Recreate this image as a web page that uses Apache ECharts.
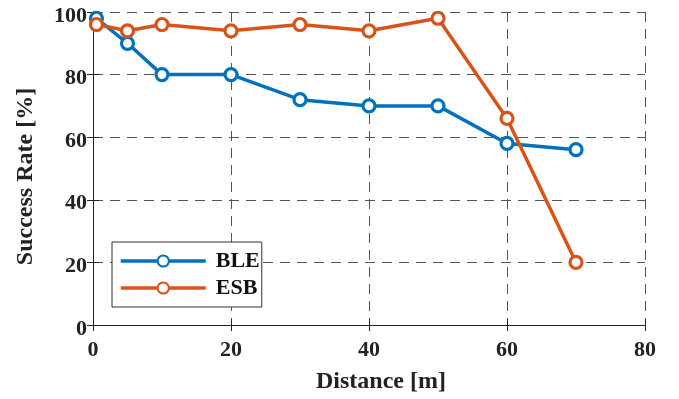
<!DOCTYPE html>
<html><head><meta charset="utf-8">
<script src="https://cdn.jsdelivr.net/npm/echarts@6/dist/echarts.min.js"></script>
<style>html,body{margin:0;padding:0;background:#fff}#c{width:679px;height:399px}</style>
</head><body><div id="c"></div>
<script>
const distances = [0.5, 5, 10, 20, 30, 40, 50, 60, 70];
const bleRate = [98, 90, 80, 80, 72, 70, 70, 58, 56];
const esbRate = [96, 94, 96, 94, 96, 94, 98, 66, 20];
const xTicks = [0, 20, 40, 60, 80];
const yTicks = [0, 20, 40, 60, 80, 100];

const font = 'Liberation Serif';
const chart = echarts.init(document.getElementById('c'), null, {renderer: 'canvas'});
const gridLine = {show: true, lineStyle: {color: '#555', type: [10, 7], width: 1}};
const axisLine = {show: true, lineStyle: {color: '#222', width: 1}};
const tick = {show: true, inside: true, length: 6, lineStyle: {color: '#222'}};
function mk(name, data, color) {
  return {
    name, type: 'line',
    data: distances.map((d, i) => [d, data[i]]),
    symbol: 'circle', symbolSize: 12, showSymbol: true,
    lineStyle: {color, width: 3.5},
    itemStyle: {color: '#fff', borderColor: color, borderWidth: 3.2},
    color,
    z: 3
  };
}
chart.setOption({
  animation: false,
  grid: {left: 93, right: 34, top: 12, bottom: 74, containLabel: false},
  xAxis: [{
    type: 'value', min: 0, max: 80, interval: 20,
    name: 'Distance [m]', nameLocation: 'middle', nameGap: 45,
    nameTextStyle: {fontFamily: font, fontWeight: 'bold', fontSize: 24, color: '#222', padding: [0, 0, 0, 24]},
    axisLine, axisTick: tick, splitLine: gridLine,
    axisLabel: {fontFamily: font, fontWeight: 'bold', fontSize: 22, color: '#222', margin: 14,
      formatter: v => xTicks.includes(v) ? String(v) : ''}
  }, {
    type: 'value', min: 0, max: 80, interval: 20, position: 'top',
    axisLine, axisTick: tick, axisLabel: {show: false}, splitLine: {show: false}
  }],
  yAxis: [{
    type: 'value', min: 0, max: 100, interval: 20,
    name: 'Success Rate [%]', nameLocation: 'middle', nameGap: 55,
    nameTextStyle: {fontFamily: font, fontWeight: 'bold', fontSize: 24, color: '#222', padding: [0, 16, 0, 0]},
    axisLine, axisTick: tick, splitLine: gridLine,
    axisLabel: {color: '#222', margin: 6,
      formatter: v => yTicks.includes(v) ? '{a|' + v + '}' : '',
      rich: {a: {fontFamily: font, fontWeight: 'bold', fontSize: 22, color: '#222', padding: [8, 0, 0, 0]}}}
  }, {
    type: 'value', min: 0, max: 100, interval: 20, position: 'right',
    axisLine, axisTick: tick, axisLabel: {show: false}, splitLine: {show: false}
  }],
  legend: {
    left: 112, top: 242, orient: 'vertical',
    itemWidth: 85, itemHeight: 14, itemGap: 5,
    padding: [8, 2, 8, 7],
    borderColor: '#333', borderWidth: 1, backgroundColor: '#fff',
    lineStyle: {width: 3.5},
    textStyle: {fontFamily: font, fontWeight: 'bold', fontSize: 22, color: '#111', padding: [0, 0, 0, 5]},
    data: ['BLE', 'ESB']
  },
  series: [mk('BLE', bleRate, '#0072BD'), mk('ESB', esbRate, '#D95319')]
});
</script></body></html>
